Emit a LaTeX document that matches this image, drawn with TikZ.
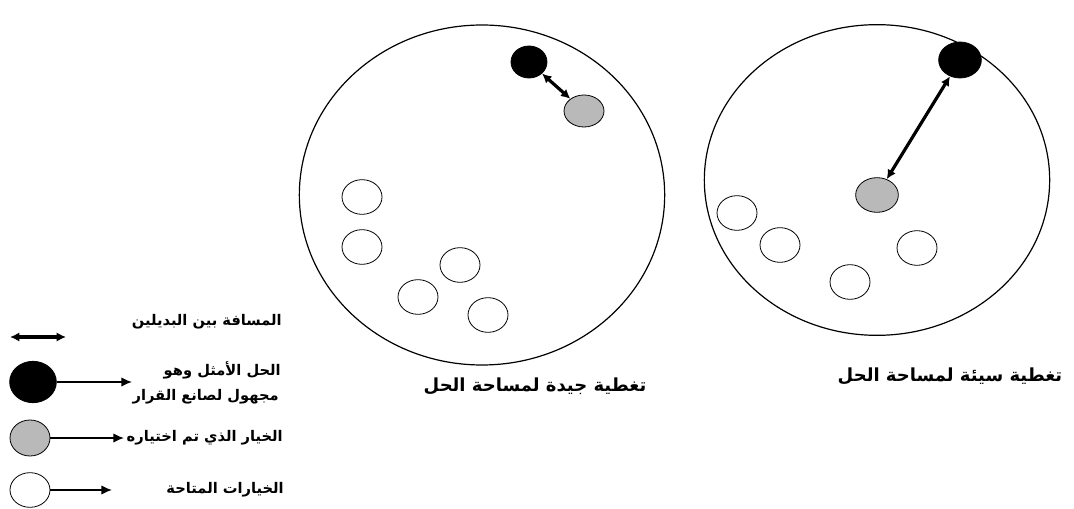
\documentclass[tikz,border=0pt]{standalone}
\usepackage{fontspec}
\newfontfamily\arabicfont[Script=Arabic]{DejaVu Sans}
\TeXXeTstate=1
\usetikzlibrary{shapes.geometric,arrows.meta}
\tikzset{
  space/.style={draw, ellipse, line width=0.9pt, inner sep=0pt},
  opt/.style={draw, ellipse, fill=black, line width=0.6pt, inner sep=0pt},
  chosen/.style={draw, ellipse, fill=gray!55, line width=0.6pt, inner sep=0pt},
  avail/.style={draw, ellipse, fill=white, line width=0.6pt, inner sep=0pt},
  dist/.style={{Latex[length=7pt,width=7pt]}-{Latex[length=7pt,width=7pt]}, line width=2.4pt},
  legarrow/.style={-{Latex[length=8pt,width=7pt]}, line width=1pt},
  lbl/.style={font=\arabicfont\bfseries\fontsize{11}{13}\selectfont, inner sep=0pt},
  captext/.style={font=\arabicfont\bfseries\fontsize{13.5}{16}\selectfont, inner sep=0pt}
}
\begin{document}
\begin{tikzpicture}[x=0.75pt,y=-0.75pt]
\useasboundingbox (0,0) rectangle (1074,509);
% middle space
\node[space, minimum width=274pt, minimum height=255pt] (S1) at (482,195) {};
\node[opt, minimum width=27pt, minimum height=24pt] (B1) at (529,62) {};
\node[chosen, minimum width=30pt, minimum height=24pt] (G1) at (584,111) {};
\draw[dist] (B1) -- (G1);
\node[avail, minimum width=30pt, minimum height=26pt] (W1) at (362,197) {};
\node[avail, minimum width=30pt, minimum height=26pt] (W2) at (362,247) {};
\node[avail, minimum width=30pt, minimum height=26pt] (W3) at (460,265) {};
\node[avail, minimum width=30pt, minimum height=26pt] (W4) at (418,297) {};
\node[avail, minimum width=30pt, minimum height=26pt] (W5) at (488,315) {};
% right space
\node[space, minimum width=259pt, minimum height=233pt] (S2) at (877,180) {};
\node[opt, minimum width=32pt, minimum height=27pt] (B2) at (960,60) {};
\node[chosen, minimum width=32pt, minimum height=26pt] (G2) at (877,195) {};
\draw[dist] (B2) -- (G2);
\node[avail, minimum width=30pt, minimum height=26pt] (W6) at (737,213) {};
\node[avail, minimum width=30pt, minimum height=26pt] (W7) at (780,245) {};
\node[avail, minimum width=30pt, minimum height=26pt] (W8) at (917,248) {};
\node[avail, minimum width=30pt, minimum height=26pt] (W9) at (850,282) {};
% captions
\node[captext] (C1) at (535,386) {\beginR تغطية جيدة لمساحة الحل\endR};
\node[captext] (C2) at (950,376) {\beginR تغطية سيئة لمساحة الحل\endR};
% legend
\coordinate (D1) at (10,337);
\coordinate (D2) at (66,337);
\draw[dist] (D1) -- (D2);
\node[lbl, anchor=east] (L1) at (282,322) {\beginR المسافة بين البديلين\endR};
\node[opt, minimum width=35pt, minimum height=31pt] (LB) at (33,382) {};
\coordinate (LBe) at (132,382);
\draw[legarrow] (LB) -- (LBe);
\node[lbl, anchor=east] (L2a) at (281,370) {\beginR الحل الأمثل وهو\endR};
\node[lbl, anchor=east] (L2b) at (279,397) {\beginR مجهول لصانع القرار\endR};
\node[chosen, minimum width=30pt, minimum height=27pt] (LG) at (30,438) {};
\coordinate (LGe) at (124,438);
\draw[legarrow] (LG) -- (LGe);
\node[lbl, anchor=east] (L3) at (283,438) {\beginR الخيار الذي تم اختياره\endR};
\node[avail, minimum width=30pt, minimum height=26pt] (LW) at (30,490) {};
\coordinate (LWe) at (112,490);
\draw[legarrow] (LW) -- (LWe);
\node[lbl, anchor=east] (L4) at (284,490) {\beginR الخيارات المتاحة\endR};
\end{tikzpicture}
\end{document}
